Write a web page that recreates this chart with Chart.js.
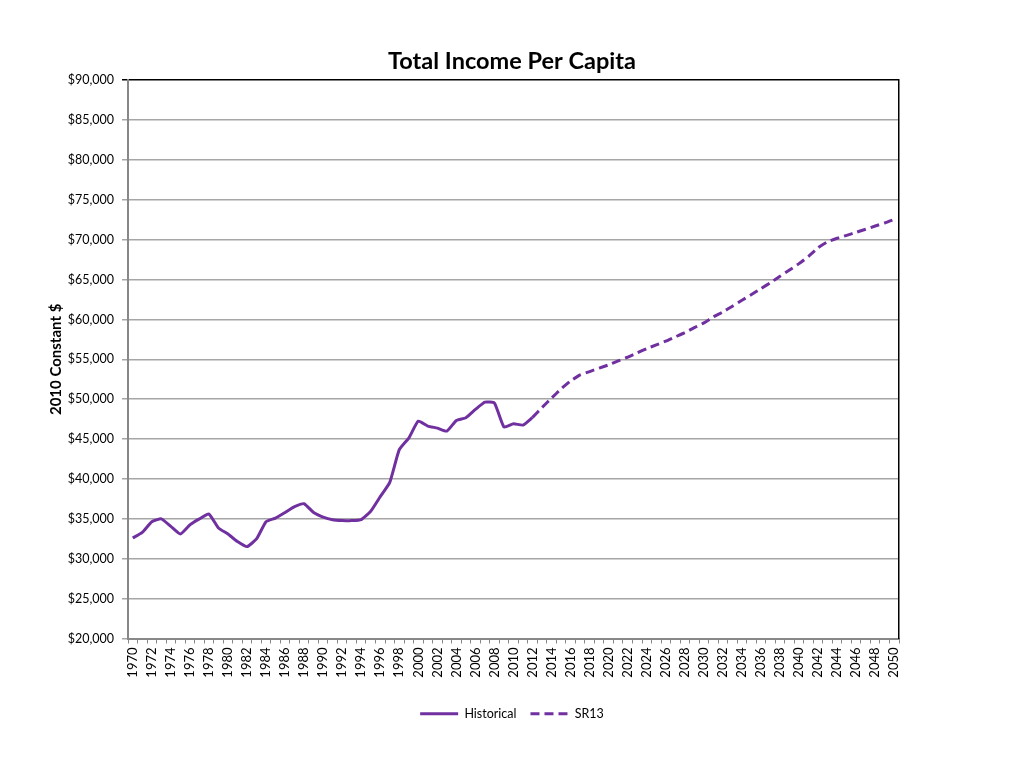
<!DOCTYPE html>
<html>
<head>
<meta charset="utf-8">
<title>Total Income Per Capita</title>
<script src="https://cdn.jsdelivr.net/npm/chart.js@4.4.1/dist/chart.umd.min.js"></script>
<style>
    html, body { margin: 0; padding: 0; background: #fff; }
    #wrap { width: 1024px; height: 768px; position: relative; }
</style>
</head>
<body>
<div id="wrap"><canvas id="incomeChart"></canvas></div>
<script>
    'use strict';

    // Years 1970 .. 2050
    var years = [];
    for (var y = 1970; y <= 2050; y++) years.push(String(y));

    // Historical, 1970 - 2012 (2010 constant $)
    var historical = [
        32600, 33300, 34650, 35000, 34060, 33100, 34240, 35000, 35600, 33860,
        33100, 32150, 31520, 32480, 34650, 35100, 35800, 36530, 36900, 35800,
        35230, 34900, 34800, 34780, 34900, 35950, 37780, 39580, 43670, 45130,
        47260, 46630, 46380, 46000, 47340, 47680, 48720, 49640, 49510, 46510,
        46920, 46760, 47720
    ];

    // SR13 forecast, 2012 - 2050
    var sr13 = [
        47720, 48960, 50140, 51300, 52300, 53060, 53470, 53900, 54310, 54810,
        55270, 55810, 56350, 56810, 57280, 57820, 58360, 58980, 59570, 60320,
        60950, 61660, 62410, 63120, 63870, 64620, 65420, 66210, 67000, 67920,
        69000, 69750, 70180, 70550, 70930, 71310, 71720, 72100, 72550
    ];

    var yTicks = [20000, 25000, 30000, 35000, 40000, 45000, 50000, 55000, 60000, 65000, 70000, 75000, 80000, 85000, 90000];

    var purple = '#7030A0';
    var fontFamily = 'Lato, "Open Sans", sans-serif';

    // pad series onto the full year range
    function alignSeries(values, startYear) {
        return years.map(function(yr) {
            var i = parseInt(yr, 10) - startYear;
            return (i >= 0 && i < values.length) ? values[i] : null;
        });
    }

    function formatDollars(v) {
        return '$' + v.toLocaleString('en-US');
    }

    // Center title and legend on the whole canvas, not just the padded box
    var centerBlocks = {
        id: 'centerBlocks',
        afterLayout: function(chart) {
            [chart.titleBlock, chart.legend].forEach(function(b) {
                if (!b) return;
                b.left = 0;
                b.right = chart.width;
                b.width = chart.width;
            });
        }
    };

    var ctx = document.getElementById('incomeChart');

    new Chart(ctx.getContext('2d'), {
        type: 'line',
        data: {
            labels: years,
            datasets: [{
                label: 'Historical',
                data: alignSeries(historical, 1970),
                borderColor: purple,
                backgroundColor: purple,
                borderWidth: 3,
                pointRadius: 0,
                tension: 0.15,
                spanGaps: false
            }, {
                label: 'SR13',
                data: alignSeries(sr13, 2012),
                borderColor: purple,
                backgroundColor: purple,
                borderWidth: 3,
                borderDash: [9, 5],
                pointRadius: 0,
                tension: 0.15,
                spanGaps: false
            }]
        },
        plugins: [centerBlocks],
        options: {
            responsive: true,
            maintainAspectRatio: false,
            animation: false,
            layout: { padding: { top: 47, left: 47, right: 125, bottom: 38 } },
            plugins: {
                title: {
                    display: true,
                    text: 'Total Income Per Capita',
                    color: '#000',
                    font: { family: fontFamily, size: 23.5, weight: 'bold' },
                    padding: { top: 0, bottom: 5 }
                },
                legend: {
                    position: 'bottom',
                    labels: {
                        usePointStyle: true,
                        pointStyle: 'line',
                        pointStyleWidth: 38,
                        color: '#000',
                        font: { family: fontFamily, size: 12.5 },
                        padding: 14,
                        generateLabels: function(chart) {
                            var items = Chart.defaults.plugins.legend.labels.generateLabels(chart);
                            items.forEach(function(item) {
                                var ds = chart.data.datasets[item.datasetIndex];
                                item.lineDash = ds.borderDash || [];
                                item.lineWidth = ds.borderWidth;
                                item.strokeStyle = ds.borderColor;
                                item.pointStyle = 'line';
                            });
                            return items;
                        }
                    }
                },
                tooltip: { enabled: false }
            },
            scales: {
                x: {
                    type: 'category',
                    offset: true,
                    grid: {
                        offset: true,
                        drawOnChartArea: false,
                        drawTicks: true,
                        tickLength: 5,
                        color: '#888'
                    },
                    border: { color: '#888', width: 2 },
                    ticks: {
                        autoSkip: false,
                        maxRotation: 90,
                        minRotation: 90,
                        padding: 4,
                        color: '#000',
                        font: { family: fontFamily, size: 13 },
                        callback: function(val, idx) {
                            return idx % 2 === 0 ? years[idx] : '';
                        }
                    },
                    afterFit: function(scale) { scale.height = 55; }
                },
                y: {
                    min: 20000,
                    max: 90000,
                    afterBuildTicks: function(scale) {
                        scale.ticks = yTicks.map(function(v) { return { value: v }; });
                    },
                    grid: {
                        color: function(c) {
                            return c.tick && c.tick.value === 90000 ? '#000' : '#a6a6a6';
                        },
                        lineWidth: 1.5,
                        tickLength: 6
                    },
                    border: { color: '#888', width: 2 },
                    ticks: {
                        padding: 8,
                        color: '#000',
                        font: { family: fontFamily, size: 12.5 },
                        callback: function(v) { return formatDollars(v); }
                    },
                    title: {
                        display: true,
                        text: '2010 Constant $',
                        color: '#000',
                        font: { family: fontFamily, size: 15, weight: 'bold' },
                        padding: { top: 0, bottom: 6 }
                    },
                    afterFit: function(scale) { scale.width = 81; }
                },
                yRight: {
                    position: 'right',
                    min: 20000,
                    max: 90000,
                    grid: { display: false, drawTicks: false },
                    border: { display: true, color: '#000', width: 1.5 },
                    ticks: { display: false },
                    afterFit: function(scale) { scale.width = 0; }
                }
            }
        }
    });
</script>
</body>
</html>
